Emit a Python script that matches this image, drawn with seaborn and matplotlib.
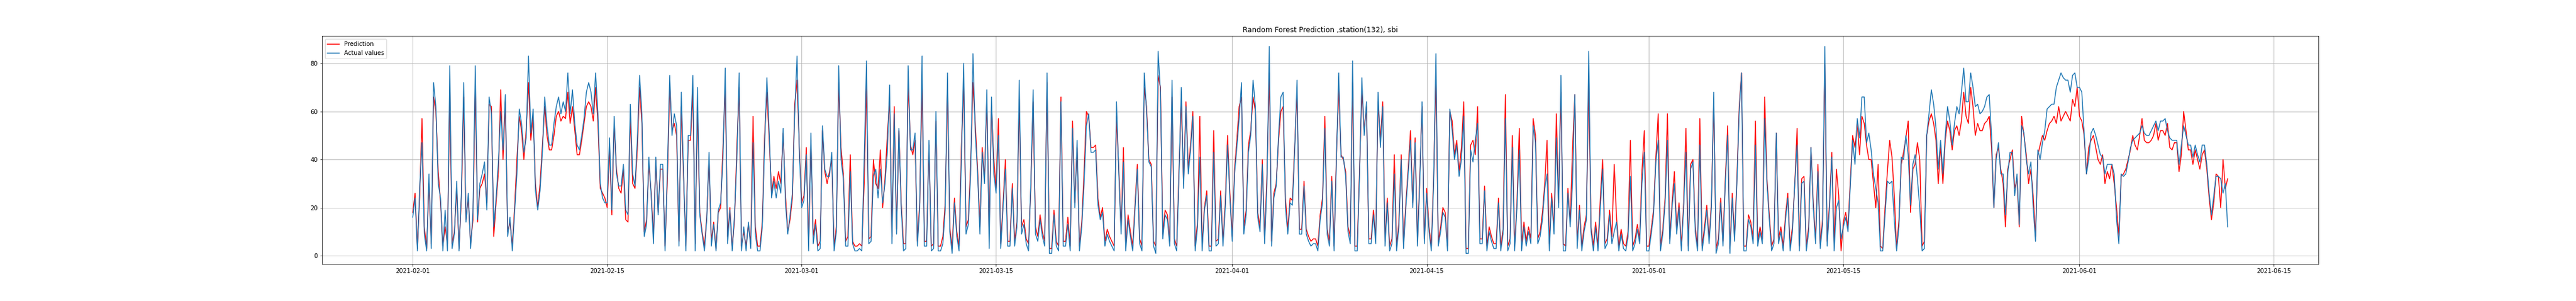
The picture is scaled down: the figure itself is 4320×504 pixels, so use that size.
import pandas as pd
import matplotlib.pyplot as plt
import matplotlib.dates as mdates
import seaborn as sns

# 4-hourly readings (00,04,08,12,16,20h), one row per day starting 2021-02-01
start_time = '2021-02-01 00:00'
step = '4h'

actual_values = [
    [16, 24, 2, 28, 47, 9], [2, 34, 3, 72, 62, 30], [24, 2, 19, 2, 79, 3], [9, 31, 2, 26, 72, 14],
    [26, 3, 18, 79, 15, 30], [34, 39, 19, 66, 59, 12], [24, 39, 60, 44, 67, 8], [16, 2, 18, 34, 61, 55],
    [43, 49, 83, 51, 61, 27], [19, 27, 43, 66, 54, 46], [46, 55, 62, 66, 59, 64], [60, 76, 59, 69, 55, 46],
    [44, 50, 57, 68, 72, 68], [59, 76, 59, 30, 24, 22], [22, 49, 19, 58, 34, 29], [29, 38, 19, 17, 63, 34],
    [29, 48, 75, 59, 8, 13], [41, 25, 5, 41, 17, 38], [38, 2, 36, 75, 50, 59], [54, 4, 68, 34, 2, 50],
    [50, 75, 2, 70, 17, 9], [2, 15, 43, 4, 13, 2], [19, 22, 40, 78, 5, 19], [2, 17, 40, 76, 2, 12],
    [2, 14, 3, 47, 9, 2], [2, 12, 46, 74, 51, 24], [31, 24, 31, 26, 53, 22], [9, 17, 26, 59, 83, 43],
    [20, 23, 42, 2, 51, 5], [13, 2, 3, 54, 36, 33], [33, 43, 2, 10, 79, 40], [32, 4, 4, 35, 5, 2],
    [2, 3, 2, 40, 81, 5], [6, 33, 36, 24, 36, 22], [30, 43, 71, 5, 59, 9], [53, 20, 2, 3, 79, 44],
    [44, 51, 4, 20, 83, 4], [4, 48, 2, 3, 60, 2], [2, 5, 19, 76, 10, 1], [22, 8, 2, 40, 80, 9],
    [13, 34, 84, 51, 34, 9], [43, 30, 69, 3, 66, 34], [26, 50, 3, 20, 36, 4], [4, 28, 4, 12, 73, 9],
    [13, 5, 2, 30, 69, 9], [6, 15, 8, 4, 76, 1], [1, 17, 4, 2, 64, 4], [4, 13, 2, 53, 20, 48],
    [2, 12, 30, 54, 59, 43], [43, 44, 21, 15, 18, 4], [9, 6, 4, 2, 64, 34], [9, 39, 2, 15, 8, 2],
    [19, 36, 5, 2, 76, 60], [39, 37, 4, 1, 85, 68], [7, 17, 15, 4, 73, 5], [2, 33, 70, 28, 62, 34],
    [44, 58, 2, 12, 41, 2], [19, 25, 2, 2, 43, 4], [5, 25, 4, 20, 46, 24], [6, 34, 45, 57, 72, 9],
    [17, 43, 50, 73, 62, 16], [10, 38, 5, 30, 87, 4], [24, 29, 50, 66, 68, 20], [9, 22, 21, 44, 73, 9],
    [9, 29, 9, 6, 4, 5], [5, 2, 15, 22, 53, 9], [4, 31, 2, 40, 76, 41], [41, 33, 10, 5, 81, 2],
    [2, 34, 74, 50, 64, 5], [5, 17, 5, 68, 45, 62], [4, 22, 2, 5, 34, 2], [12, 40, 3, 20, 34, 48],
    [20, 47, 4, 30, 64, 5], [26, 10, 2, 30, 84, 4], [10, 18, 16, 2, 61, 52], [40, 46, 33, 40, 58, 1],
    [1, 44, 39, 48, 55, 5], [5, 27, 2, 10, 6, 3], [3, 22, 2, 9, 57, 2], [5, 45, 2, 20, 44, 2],
    [12, 4, 10, 5, 54, 47], [5, 8, 15, 28, 34, 2], [24, 9, 49, 20, 75, 2], [2, 26, 12, 30, 67, 3],
    [19, 2, 10, 15, 85, 10], [2, 12, 2, 20, 36, 3], [5, 17, 5, 10, 14, 2], [9, 3, 2, 8, 33, 2],
    [5, 11, 5, 30, 43, 2], [2, 9, 17, 39, 48, 2], [9, 22, 48, 5, 20, 30], [9, 20, 2, 20, 43, 2],
    [36, 39, 10, 2, 46, 2], [10, 19, 5, 20, 68, 1], [5, 22, 4, 30, 50, 1], [24, 6, 30, 60, 76, 2],
    [2, 15, 12, 5, 46, 4], [10, 5, 57, 30, 15, 2], [5, 51, 5, 10, 2, 15], [24, 2, 10, 30, 46, 2],
    [30, 31, 2, 10, 45, 20], [5, 35, 3, 13, 87, 4], [20, 41, 2, 20, 23, 7], [12, 16, 10, 29, 48, 38],
    [57, 49, 66, 66, 47, 51], [44, 34, 28, 22, 2, 2], [17, 31, 30, 31, 15, 2], [12, 41, 40, 50, 42, 21],
    [38, 42, 32, 20, 2, 3], [50, 59, 69, 63, 53, 36], [48, 34, 50, 62, 56, 46], [55, 62, 59, 68, 78, 64],
    [64, 76, 70, 62, 63, 59], [60, 62, 66, 67, 50, 20], [40, 47, 34, 34, 17, 34], [43, 43, 25, 34, 13, 54],
    [51, 40, 34, 39, 20, 6], [44, 40, 47, 52, 61, 62], [63, 63, 70, 73, 76, 74], [73, 73, 68, 75, 76, 70],
    [70, 68, 51, 34, 40, 51], [53, 50, 46, 42, 41, 34], [38, 38, 38, 34, 15, 5], [34, 33, 34, 39, 45, 48],
    [49, 50, 51, 54, 51, 50], [50, 52, 54, 56, 52, 56], [56, 57, 52, 49, 48, 48], [48, 38, 46, 54, 50, 46],
    [46, 41, 46, 42, 39, 46], [46, 38, 26, 17, 25, 33], [33, 32, 26, 30, 12],
]

predicted_values = [
    [18, 26, 3, 25, 57, 12], [3, 30, 5, 66, 60, 35], [22, 4, 12, 5, 68, 5], [10, 28, 3, 24, 66, 15],
    [24, 5, 15, 72, 14, 28], [30, 34, 22, 63, 62, 8], [22, 35, 69, 40, 64, 10], [14, 4, 20, 40, 58, 52],
    [40, 52, 72, 48, 58, 30], [20, 30, 46, 62, 50, 44], [44, 50, 58, 60, 56, 58], [57, 68, 55, 62, 52, 42],
    [42, 48, 55, 62, 64, 62], [56, 70, 55, 28, 26, 24], [20, 45, 17, 55, 36, 28], [26, 36, 15, 14, 58, 30],
    [28, 44, 70, 55, 10, 15], [38, 26, 8, 40, 18, 36], [36, 4, 32, 70, 52, 55], [50, 6, 62, 32, 4, 48],
    [48, 68, 5, 62, 18, 10], [4, 16, 40, 6, 14, 3], [18, 20, 45, 70, 8, 20], [3, 15, 45, 70, 4, 10],
    [4, 13, 5, 58, 12, 4], [4, 14, 50, 68, 48, 26], [33, 28, 35, 30, 51, 25], [10, 15, 24, 63, 73, 45],
    [22, 25, 45, 5, 48, 8], [15, 4, 6, 52, 35, 30], [35, 40, 4, 12, 72, 45], [34, 6, 8, 42, 6, 4],
    [4, 5, 4, 30, 72, 7], [8, 40, 30, 28, 44, 20], [32, 50, 65, 8, 62, 11], [52, 22, 5, 5, 72, 46],
    [42, 48, 6, 22, 72, 6], [6, 46, 4, 5, 56, 4], [4, 8, 22, 70, 12, 3], [24, 10, 4, 45, 72, 12],
    [15, 38, 72, 55, 36, 12], [45, 32, 65, 10, 62, 40], [28, 57, 5, 22, 40, 6], [6, 30, 6, 14, 65, 12],
    [15, 7, 5, 28, 64, 12], [8, 17, 10, 6, 72, 3], [3, 19, 6, 4, 66, 6], [6, 16, 4, 56, 22, 45],
    [4, 14, 35, 60, 58, 45], [45, 46, 24, 16, 20, 6], [11, 8, 6, 4, 58, 36], [11, 45, 4, 17, 10, 4],
    [21, 38, 7, 4, 70, 62], [40, 38, 6, 4, 75, 70], [9, 19, 17, 6, 66, 7], [4, 35, 65, 30, 64, 36],
    [46, 60, 4, 14, 58, 4], [20, 27, 4, 4, 52, 6], [7, 27, 6, 22, 50, 26], [8, 36, 48, 62, 66, 12],
    [19, 46, 52, 66, 60, 18], [12, 40, 7, 34, 76, 6], [26, 30, 48, 60, 62, 24], [11, 24, 23, 46, 68, 11],
    [11, 31, 11, 8, 6, 7], [7, 4, 17, 24, 58, 11], [6, 33, 4, 42, 70, 42], [40, 35, 12, 8, 72, 4],
    [4, 36, 68, 52, 62, 7], [7, 19, 7, 64, 48, 64], [6, 24, 4, 7, 42, 4], [14, 42, 5, 22, 36, 52],
    [22, 49, 6, 32, 62, 7], [28, 12, 4, 32, 74, 6], [12, 20, 18, 4, 60, 56], [42, 48, 35, 45, 64, 3],
    [3, 46, 48, 42, 62, 7], [7, 29, 4, 12, 8, 5], [5, 24, 4, 11, 67, 4], [7, 50, 4, 22, 53, 5],
    [14, 6, 12, 7, 57, 50], [7, 10, 18, 30, 48, 5], [26, 11, 59, 22, 68, 5], [4, 28, 14, 44, 67, 5],
    [21, 4, 12, 17, 72, 12], [4, 14, 4, 24, 40, 5], [7, 19, 8, 38, 16, 4], [11, 5, 4, 10, 48, 4],
    [7, 13, 7, 35, 52, 4], [4, 11, 19, 41, 59, 4], [11, 24, 59, 7, 22, 35], [11, 22, 4, 22, 53, 4],
    [38, 40, 12, 4, 57, 4], [12, 21, 7, 22, 64, 3], [7, 24, 6, 32, 54, 3], [26, 8, 32, 62, 76, 4],
    [4, 17, 14, 7, 56, 6], [12, 7, 66, 32, 17, 4], [7, 51, 7, 12, 4, 17], [26, 4, 12, 30, 53, 4],
    [32, 33, 4, 12, 45, 22], [7, 38, 5, 15, 80, 6], [22, 43, 4, 36, 25, 2], [14, 18, 12, 31, 50, 45],
    [55, 42, 58, 55, 46, 40], [40, 30, 20, 38, 4, 3], [20, 35, 48, 41, 25, 3], [15, 38, 43, 49, 56, 18],
    [36, 38, 47, 40, 4, 6], [50, 56, 59, 55, 48, 30], [46, 30, 48, 56, 52, 44], [52, 54, 50, 56, 68, 58],
    [55, 70, 62, 50, 55, 52], [52, 55, 56, 58, 45, 20], [42, 45, 36, 30, 12, 36], [40, 44, 28, 32, 12, 58],
    [50, 42, 30, 36, 25, 8], [42, 46, 50, 48, 52, 55], [56, 58, 55, 62, 56, 58], [60, 58, 56, 65, 62, 70],
    [58, 56, 50, 34, 45, 48], [50, 45, 40, 38, 42, 30], [35, 32, 38, 30, 20, 8], [33, 34, 36, 40, 44, 50],
    [46, 44, 50, 57, 48, 47], [47, 48, 50, 55, 48, 52], [52, 50, 55, 45, 44, 47], [47, 35, 42, 60, 52, 44],
    [44, 38, 44, 40, 36, 42], [44, 36, 24, 15, 22, 34], [33, 20, 40, 28, 32],
]

actual = [v for day in actual_values for v in day]
predicted = [v for day in predicted_values for v in day]
times = pd.date_range(start_time, periods=len(actual), freq=step)

df = pd.DataFrame({'time': times, 'Prediction': predicted, 'Actual values': actual})

fig, ax = plt.subplots(figsize=(60, 7), dpi=72)
fig.subplots_adjust(left=0.125, right=0.9, top=0.88, bottom=0.124)

sns.lineplot(data=df, x='time', y='Prediction', color='red', linewidth=1.5,
             label='Prediction', ax=ax, zorder=2)
sns.lineplot(data=df, x='time', y='Actual values', color='#1f77b4', linewidth=1.5,
             label='Actual values', ax=ax, zorder=3)

ax.xaxis.set_major_locator(mdates.DayLocator(bymonthday=[1, 15]))
ax.xaxis.set_major_formatter(mdates.DateFormatter('%Y-%m-%d'))
ax.set_title('Random Forest Prediction ,station(132), sbi')
ax.set_xlabel('')
ax.set_ylabel('')
ax.grid(True)
ax.legend(loc='upper left')

plt.savefig('out.png', dpi=72)
